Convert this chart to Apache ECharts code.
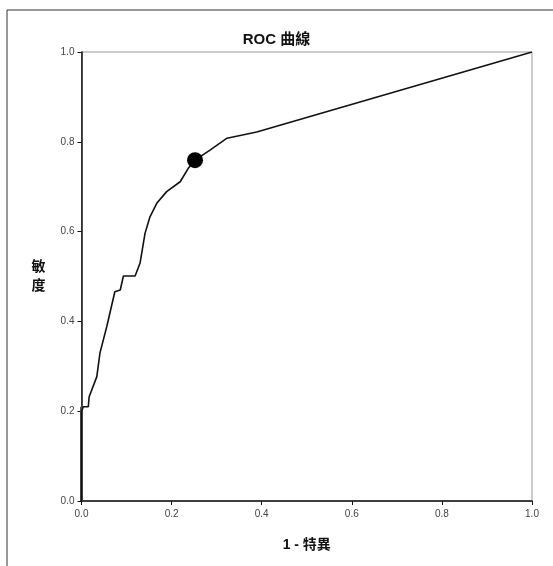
<!DOCTYPE html>
<html>
<head>
<meta charset="utf-8">
<script src="https://cdn.jsdelivr.net/npm/echarts@6/dist/echarts.min.js"></script>
<style>
  html, body { margin: 0; padding: 0; background: #fff; }
  #chart { width: 553px; height: 566px; }
</style>
</head>
<body>
<div id="chart"></div>
<script>
// ROC curve points: [1 - specificity, sensitivity]
const rocFpr = [0, 0, 0.004, 0.015, 0.017, 0.034, 0.041, 0.056, 0.074, 0.086, 0.093, 0.119, 0.13, 0.141, 0.152, 0.167, 0.189, 0.219, 0.237, 0.252, 0.286, 0.323, 0.389, 1.0]
const rocTpr = [0, 0.2, 0.21, 0.21, 0.232, 0.277, 0.33, 0.388, 0.466, 0.47, 0.501, 0.501, 0.53, 0.596, 0.633, 0.663, 0.689, 0.711, 0.741, 0.759, 0.782, 0.808, 0.822, 1.0]
const cutoffPoint = [0.252, 0.759]
const tickValues = [0, 0.2, 0.4, 0.6, 0.8, 1.0]

const latin = '"Liberation Sans", Arial, sans-serif'
const cjk = '"Liberation Sans", "Noto Sans CJK TC", sans-serif'

const chart = echarts.init(document.getElementById('chart'))

const axisCommon = {
  type: 'value',
  min: tickValues[0],
  max: tickValues[tickValues.length - 1],
  interval: 0.2,
  axisLine: { show: true, lineStyle: { color: '#111', width: 1.5 } },
  axisTick: { show: true, inside: false, length: 4, lineStyle: { color: '#111' } },
  axisLabel: {
    color: '#444',
    fontSize: 10,
    fontFamily: latin,
    formatter: (v) => v.toFixed(1),
  },
  splitLine: { show: false },
}

chart.setOption({
  backgroundColor: '#fff',
  animation: false,
  title: {
    text: 'ROC 曲線',
    left: 'center',
    top: 27,
    textStyle: { fontSize: 15, fontWeight: 'bold', color: '#111', fontFamily: cjk },
  },
  grid: {
    left: 81.5,
    right: 21,
    top: 52,
    bottom: 65,
    show: true,
    borderColor: '#999',
    borderWidth: 1,
    backgroundColor: 'transparent',
  },
  xAxis: {
    ...axisCommon,
    name: '1 - 特異',
    nameLocation: 'middle',
    nameGap: 37,
    nameTextStyle: { fontSize: 14, fontWeight: 'bold', color: '#111', fontFamily: cjk },
    axisLabel: { ...axisCommon.axisLabel, margin: 8 },
  },
  yAxis: {
    ...axisCommon,
    name: '敏\n度',
    nameLocation: 'middle',
    nameRotate: 0,
    nameGap: 36,
    nameTextStyle: { fontSize: 14, fontWeight: 'bold', color: '#111', fontFamily: cjk, lineHeight: 19 },
    axisLabel: { ...axisCommon.axisLabel, margin: 7 },
  },
  graphic: [
    { type: 'line', shape: { x1: 7, y1: 10, x2: 7, y2: 566 }, style: { stroke: '#333', lineWidth: 1 } },
    { type: 'line', shape: { x1: 7, y1: 10, x2: 553, y2: 10 }, style: { stroke: '#333', lineWidth: 1 } },
  ],
  series: [
    {
      type: 'line',
      data: rocFpr.map((x, i) => [x, rocTpr[i]]),
      showSymbol: false,
      smooth: false,
      lineStyle: { color: '#111', width: 1.6 },
      z: 3,
    },
    {
      type: 'line',
      data: [[0, 0], [0, 0.21]],
      showSymbol: false,
      lineStyle: { color: '#555', width: 3 },
      z: 2,
    },
    {
      type: 'scatter',
      data: [cutoffPoint],
      symbolSize: 16,
      itemStyle: { color: '#000', opacity: 1 },
      z: 4,
    },
  ],
})
</script>
</body>
</html>
